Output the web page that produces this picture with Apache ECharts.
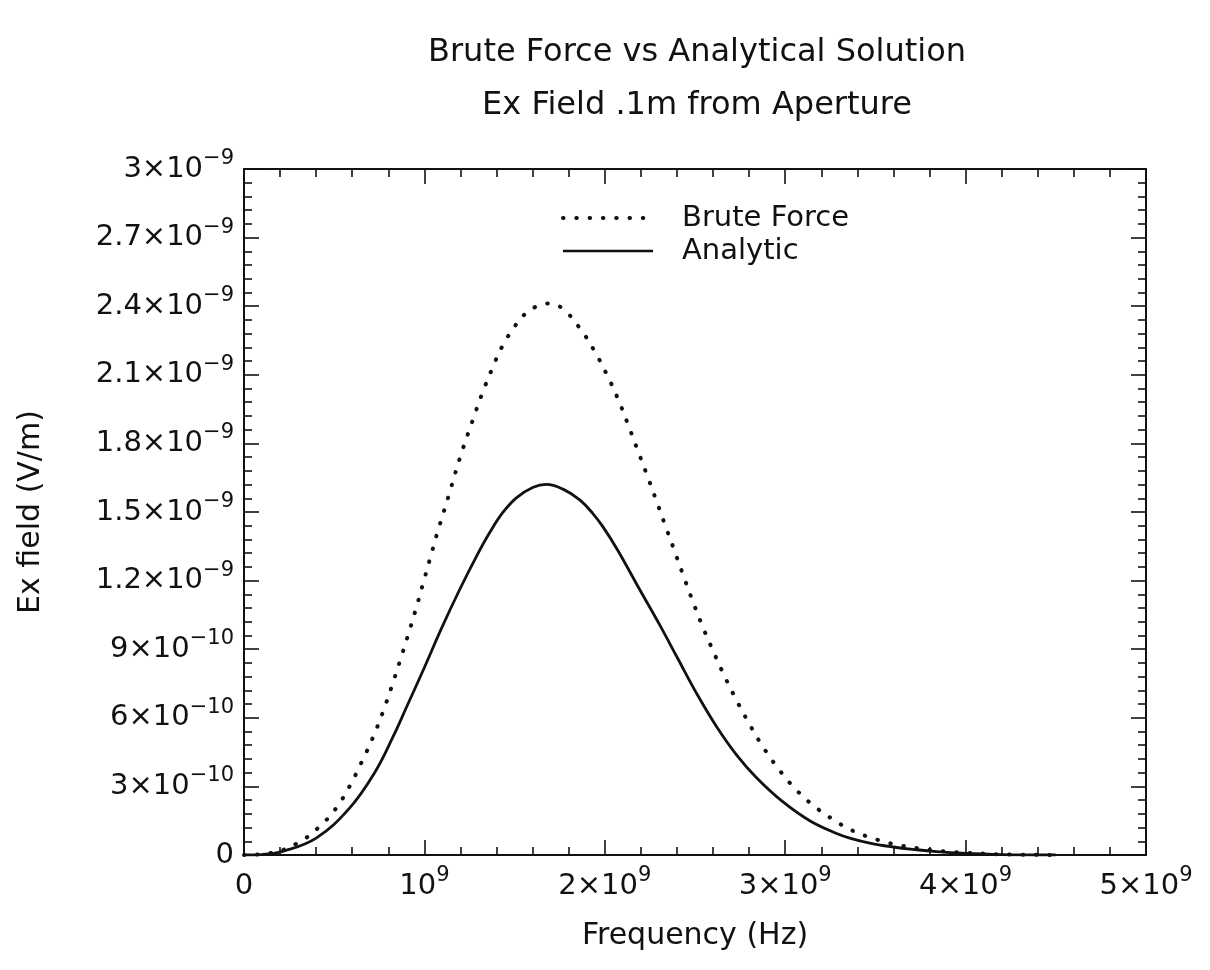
<!DOCTYPE html>
<html>
<head>
<meta charset="utf-8">
<title>Brute Force vs Analytical Solution</title>
<script src="https://cdn.jsdelivr.net/npm/echarts@6/dist/echarts.min.js"></script>
<style>
  html, body { margin: 0; padding: 0; background: #fff; }
  #chart { width: 1210px; height: 970px; }
</style>
</head>
<body>
<div id="chart"></div>
<script>
// Frequencies in GHz, fields in nV/m (converted to Hz and V/m for the axes)
const bruteFreq = [0, 0.151, 0.29, 0.41, 0.507, 0.585, 0.652, 0.713, 0.768, 0.816, 0.862, 0.905, 0.95, 0.99,
  1.029, 1.071, 1.136, 1.199, 1.267, 1.319, 1.371, 1.432, 1.51, 1.561, 1.624, 1.689, 1.765, 1.865, 1.942,
  2.009, 2.07, 2.123, 2.175, 2.231, 2.281, 2.332, 2.384, 2.434, 2.486, 2.539, 2.6, 2.659, 2.724, 2.794,
  2.868, 2.952, 3.048, 3.155, 3.275, 3.34, 3.395, 3.473, 3.543, 3.617, 3.691, 3.756, 3.83, 3.903, 4.0,
  4.2, 4.5];
const bruteField = [0, 0.009, 0.049, 0.118, 0.201, 0.30, 0.406, 0.511, 0.621, 0.73, 0.842, 0.950, 1.068, 1.18,
  1.29, 1.407, 1.575, 1.742, 1.90, 2.015, 2.118, 2.225, 2.322, 2.368, 2.40, 2.412, 2.39, 2.30, 2.205,
  2.105, 2.0, 1.895, 1.785, 1.668, 1.56, 1.448, 1.335, 1.225, 1.113, 1.005, 0.893, 0.79, 0.686, 0.583,
  0.484, 0.388, 0.296, 0.217, 0.15, 0.12, 0.099, 0.076, 0.059, 0.045, 0.035, 0.027, 0.02, 0.015, 0.01,
  0.003, 0];

const analyticFreq = [0, 0.1, 0.215, 0.4, 0.585, 0.724, 0.825, 0.9, 1.0, 1.094, 1.195, 1.288, 1.362, 1.435,
  1.51, 1.6, 1.676, 1.768, 1.861, 1.935, 1.99, 2.07, 2.194, 2.305, 2.406, 2.508, 2.619, 2.73, 2.841,
  2.988, 3.136, 3.285, 3.358, 3.469, 3.598, 3.728, 3.839, 3.98, 4.2, 4.5];
const analyticField = [0, 0.002, 0.016, 0.074, 0.205, 0.36, 0.515, 0.645, 0.82, 0.99, 1.16, 1.305, 1.41,
  1.498, 1.562, 1.607, 1.621, 1.6, 1.553, 1.492, 1.435, 1.335, 1.16, 1.005, 0.857, 0.708, 0.562, 0.438,
  0.338, 0.232, 0.15, 0.094, 0.074, 0.052, 0.035, 0.023, 0.015, 0.008, 0.002, 0];

// Tick labels: [base, exponent]
const xTickLabels = [['0', ''], ['10', '9'], ['2×10', '9'], ['3×10', '9'], ['4×10', '9'], ['5×10', '9']];
const yTickLabels = [['0', ''], ['3×10', '−10'], ['6×10', '−10'], ['9×10', '−10'], ['1.2×10', '−9'],
  ['1.5×10', '−9'], ['1.8×10', '−9'], ['2.1×10', '−9'], ['2.4×10', '−9'], ['2.7×10', '−9'], ['3×10', '−9']];

const FONT = 'DejaVu Sans';
const INK = '#111';

function toPairs(fs, vs) {
  return fs.map((f, i) => [f * 1e9, vs[i] * 1e-9]);
}
function richLabel(pair) {
  return pair[1] ? '{b|' + pair[0] + '}{s|' + pair[1] + '}' : '{b|' + pair[0] + '}';
}
const labelRich = {
  b: { fontFamily: FONT, fontSize: 29, lineHeight: 32, color: INK },
  s: { fontFamily: FONT, fontSize: 21, lineHeight: 21, padding: [0, 0, 21, 0], color: INK }
};

const frameLine = { show: true, onZero: false, lineStyle: { color: INK, width: 2 } };

function xAxisDef(pos, withLabels) {
  return {
    type: 'value', position: pos, min: 0, max: 5e9, interval: 1e9,
    axisLine: frameLine,
    axisTick: { show: true, inside: true, length: 15, lineStyle: { color: INK, width: 1.6 } },
    minorTick: { show: true, splitNumber: 5, length: 8, lineStyle: { color: INK, width: 1.6 } },
    splitLine: { show: false },
    axisLabel: withLabels ? {
      margin: 15,
      formatter: v => richLabel(xTickLabels[Math.round(v / 1e9)]),
      rich: labelRich
    } : { show: false },
    name: withLabels ? 'Frequency (Hz)' : '',
    nameLocation: 'middle', nameGap: 66,
    nameTextStyle: { fontFamily: FONT, fontSize: 30, color: INK }
  };
}
function yAxisDef(pos, withLabels) {
  return {
    type: 'value', position: pos, min: 0, max: 3e-9, interval: 3e-10,
    axisLine: frameLine,
    axisTick: { show: true, inside: true, length: 15, lineStyle: { color: INK, width: 1.6 } },
    minorTick: { show: true, splitNumber: 5, length: 8, lineStyle: { color: INK, width: 1.6 } },
    splitLine: { show: false },
    axisLabel: withLabels ? {
      margin: 10,
      formatter: v => richLabel(yTickLabels[Math.round(v / 3e-10)]),
      rich: labelRich
    } : { show: false },
    name: withLabels ? 'Ex field (V/m)' : '',
    nameLocation: 'middle', nameGap: 198,
    nameTextStyle: { fontFamily: FONT, fontSize: 30, color: INK }
  };
}

const chart = echarts.init(document.getElementById('chart'), null, { renderer: 'canvas' });
chart.setOption({
  animation: false,
  backgroundColor: '#fff',
  textStyle: { fontFamily: FONT },
  title: [
    { text: 'Brute Force vs Analytical Solution', left: 692, top: 32, textAlign: 'center',
      textStyle: { fontFamily: FONT, fontSize: 32, fontWeight: 'normal', color: INK } },
    { text: 'Ex Field .1m from Aperture', left: 692, top: 85, textAlign: 'center',
      textStyle: { fontFamily: FONT, fontSize: 32, fontWeight: 'normal', color: INK } }
  ],
  legend: {
    data: [
      { name: 'Brute Force', lineStyle: { width: 4, type: [0.5, 12.8], cap: 'round' } },
      { name: 'Analytic', lineStyle: { width: 2.4 } }
    ],
    orient: 'vertical', left: 556, top: 197,
    itemWidth: 90, itemHeight: 14, itemGap: 1,
    textStyle: { fontFamily: FONT, fontSize: 29, lineHeight: 32, color: INK, padding: [0, 0, 0, 24] },
    selectedMode: false
  },
  grid: { left: 244, right: 64, top: 169, bottom: 115, containLabel: false },
  xAxis: [xAxisDef('bottom', true), xAxisDef('top', false)],
  yAxis: [yAxisDef('left', true), yAxisDef('right', false)],
  series: [
    {
      name: 'Brute Force', type: 'line', xAxisIndex: 0, yAxisIndex: 0,
      data: toPairs(bruteFreq, bruteField),
      showSymbol: false, symbol: 'none', smooth: 0.4,
      itemStyle: { color: 'rgba(0,0,0,0)' },
      lineStyle: { color: INK, width: 4, type: [0.5, 12.8], cap: 'round' }
    },
    {
      name: 'Analytic', type: 'line', xAxisIndex: 0, yAxisIndex: 0,
      data: toPairs(analyticFreq, analyticField),
      showSymbol: false, symbol: 'none', smooth: 0.4,
      itemStyle: { color: 'rgba(0,0,0,0)' },
      lineStyle: { color: INK, width: 2.8, type: 'solid' }
    }
  ]
});
</script>
</body>
</html>
